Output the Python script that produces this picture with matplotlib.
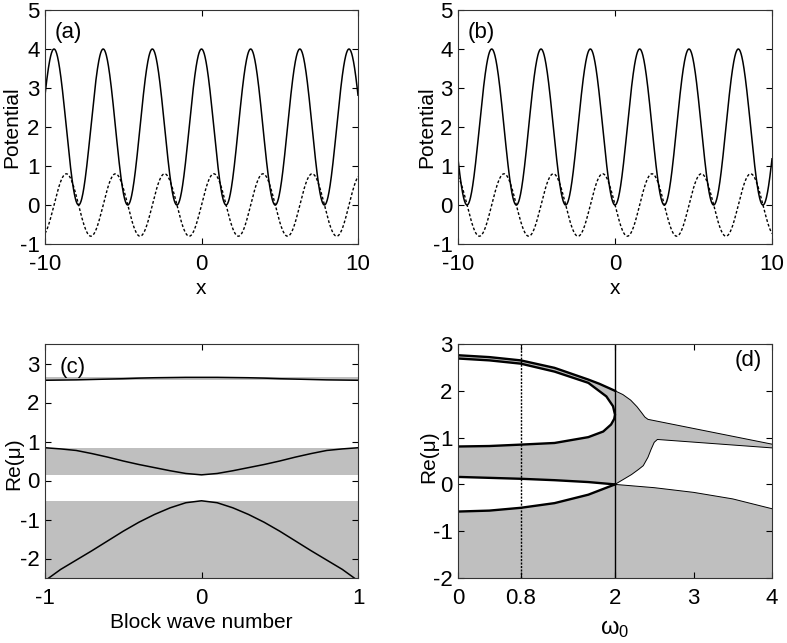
import numpy as np
import matplotlib
matplotlib.use("Agg")
import matplotlib.pyplot as plt

plt.rcParams['font.family'] = ['Liberation Sans', 'DejaVu Sans']
plt.rcParams['axes.unicode_minus'] = False
plt.rcParams['mathtext.default'] = 'regular'

# ---------------- data ----------------
# (a), (b): PT-symmetric potential V = V0*cos^2(x+shift) + i*W0*sin(2(x+shift))
x_range = [-10, 10]
V0 = 4.0            # peak of real part
W0 = 0.8            # amplitude of imaginary part
shift_a = 0.0
shift_b = np.pi / 2

# (c): band structure vs Bloch wave number
k_vals = [-1.0, -0.9, -0.8, -0.7, -0.6, -0.5, -0.4, -0.3, -0.2, -0.1, 0.0,
          0.1, 0.2, 0.3, 0.4, 0.5, 0.6, 0.7, 0.8, 0.9, 1.0]
band1 = [-2.57, -2.28, -2.04, -1.80, -1.55, -1.30, -1.07, -0.87, -0.70, -0.57, -0.52,
         -0.57, -0.70, -0.87, -1.07, -1.30, -1.55, -1.80, -2.04, -2.28, -2.57]
band2 = [0.84, 0.81, 0.77, 0.69, 0.60, 0.50, 0.41, 0.33, 0.25, 0.18, 0.145,
         0.18, 0.25, 0.33, 0.41, 0.50, 0.60, 0.69, 0.77, 0.81, 0.84]
band3 = [2.57, 2.575, 2.58, 2.59, 2.60, 2.61, 2.625, 2.635, 2.64, 2.645, 2.645,
         2.645, 2.64, 2.635, 2.625, 2.61, 2.60, 2.59, 2.58, 2.575, 2.57]

# (d): band edges vs omega_0
w_outer = [0.0, 0.4, 0.8, 1.23, 1.66, 1.8, 2.0]
mu_outer = [2.76, 2.72, 2.65, 2.49, 2.24, 2.15, 2.0]
w_inner_up = [0.0, 0.4, 0.8, 1.23, 1.66, 1.89, 1.975, 2.0]
mu_inner_up = [2.69, 2.65, 2.58, 2.41, 2.17, 1.88, 1.67, 1.49]
w_inner_lo = [0.0, 0.4, 0.8, 1.23, 1.66, 1.85, 1.95, 1.99, 2.0]
mu_inner_lo = [0.81, 0.82, 0.85, 0.885, 1.01, 1.13, 1.28, 1.40, 1.49]
w_mid = [0.0, 0.4, 0.8, 1.23, 1.66, 2.0]
mu_mid = [0.16, 0.14, 0.12, 0.09, 0.05, 0.0]
w_low = [0.0, 0.4, 0.8, 1.23, 1.66, 2.0]
mu_low = [-0.58, -0.56, -0.50, -0.40, -0.22, 0.0]
w_gap_up = [2.0, 2.1, 2.2, 2.28, 2.34, 2.38, 2.42, 4.0]
mu_gap_up = [2.0, 1.92, 1.80, 1.66, 1.53, 1.44, 1.39, 0.86]
w_gap_lo = [2.0, 2.1, 2.21, 2.3, 2.36, 2.42, 2.46, 2.5, 2.54, 4.0]
mu_gap_lo = [0.0, 0.10, 0.21, 0.32, 0.40, 0.58, 0.75, 0.90, 0.96, 0.78]
w_tail = [2.0, 2.5, 3.0, 3.5, 4.0]
mu_tail = [0.0, -0.07, -0.17, -0.31, -0.52]
w_markers = [0.8, 2.0]

GRAY = '#bfbfbf'
TICK_FS = 16
LAB_FS = 15

fig = plt.figure(figsize=(7.87, 6.43), dpi=100)
W, H = 787, 643
def add_ax(l, t, r, b):
    return fig.add_axes([l / W, 1 - b / H, (r - l) / W, (b - t) / H])

axa = add_ax(45, 10, 358, 244)
axb = add_ax(458, 10, 772, 244)
axc = add_ax(45, 344, 358, 578)
axd = add_ax(458, 344, 772, 578)

def style(ax):
    ax.tick_params(direction='in', length=4, width=0.8, top=True, right=True,
                   labelsize=TICK_FS)
    ax.tick_params(axis='x', pad=7)
    ax.tick_params(axis='y', pad=4)
    for s in ax.spines.values():
        s.set_linewidth(0.8)
        s.set_color('#333333')

xx = np.linspace(x_range[0], x_range[1], 1200)
for ax, sh, lab, ylx in [(axa, shift_a, '(a)', -0.077), (axb, shift_b, '(b)', -0.07)]:
    ax.plot(xx, V0 * np.cos(xx + sh) ** 2, color='black', lw=1.1)
    ax.plot(xx, W0 * np.sin(2 * (xx + sh)), color='black', lw=1.0,
            linestyle=(0, (2, 1.5)))
    ax.set_xlim(-10, 10)
    ax.set_ylim(-1, 5)
    ax.set_xticks([-10, 0, 10])
    ax.set_yticks([-1, 0, 1, 2, 3, 4, 5])
    ax.set_xlabel('x', fontsize=LAB_FS)
    ax.set_ylabel('Potential', fontsize=LAB_FS)
    ax.yaxis.set_label_coords(ylx, 0.5)
    ax.xaxis.set_label_coords(0.5, -0.15)
    ax.text(0.03, 0.905, lab, transform=ax.transAxes, fontsize=16,
            ha='left', va='center')
    style(ax)

# (c)
for band, lo in [(band1, -2.5), (band2, None), (band3, None)]:
    bottom = lo if lo is not None else min(band)
    axc.axhspan(bottom, max(band), color=GRAY, lw=0)
    axc.plot(k_vals, band, color='black', lw=1.1)
axc.set_xlim(-1, 1)
axc.set_ylim(-2.5, 3.5)
axc.set_xticks([-1, 0, 1])
axc.set_yticks([-2, -1, 0, 1, 2, 3])
axc.set_xlabel('Block wave number', fontsize=LAB_FS)
axc.set_ylabel('Re(μ)', fontsize=LAB_FS)
axc.yaxis.set_label_coords(-0.07, 0.49)
axc.xaxis.set_label_coords(0.5, -0.15)
axc.text(0.048, 0.90, '(c)', transform=axc.transAxes, fontsize=16,
         ha='left', va='center')
style(axc)

# (d)
def poly(xs, ys, **kw):
    axd.fill(xs, ys, color=GRAY, lw=0, **kw)

poly(list(w_outer) + list(w_inner_up[::-1]), list(mu_outer) + list(mu_inner_up[::-1]))
poly(list(w_inner_lo) + list(w_mid[::-1]), list(mu_inner_lo) + list(mu_mid[::-1]))
poly(list(w_gap_up) + list(w_gap_lo[::-1]), list(mu_gap_up) + list(mu_gap_lo[::-1]))
poly([w_low[0]] + list(w_low) + list(w_tail[1:]) + [w_tail[-1]],
     [-2] + list(mu_low) + list(mu_tail[1:]) + [-2])

thick = 1.7
axd.plot(w_outer, mu_outer, color='black', lw=thick)
axd.plot(list(w_inner_up) + list(w_inner_lo[::-1]),
         list(mu_inner_up) + list(mu_inner_lo[::-1]), color='black', lw=thick)
axd.plot(w_mid, mu_mid, color='black', lw=thick)
axd.plot(w_low, mu_low, color='black', lw=thick)
axd.plot(w_gap_up, mu_gap_up, color='black', lw=0.7)
axd.plot(w_gap_lo, mu_gap_lo, color='black', lw=0.7)
axd.plot(w_tail, mu_tail, color='black', lw=0.7)
axd.axvline(w_markers[0], color='black', lw=1.0, linestyle=(0, (1.5, 1)))
axd.axvline(w_markers[1], color='black', lw=1.0)
axd.set_xlim(0, 4)
axd.set_ylim(-2, 3)
axd.set_xticks([0, 0.8, 2, 3, 4])
axd.set_xticklabels(['0', '0.8', '2', '3', '4'])
axd.set_yticks([-2, -1, 0, 1, 2, 3])
axd.set_xlabel(r'$\omega_0$', fontsize=LAB_FS + 2)
axd.set_ylabel('Re(μ)', fontsize=LAB_FS)
axd.yaxis.set_label_coords(-0.064, 0.52)
axd.xaxis.set_label_coords(0.5, -0.17)
axd.text(0.968, 0.93, '(d)', transform=axd.transAxes, fontsize=16,
         ha='right', va='center')
style(axd)

fig.savefig('out.png', dpi=100)
